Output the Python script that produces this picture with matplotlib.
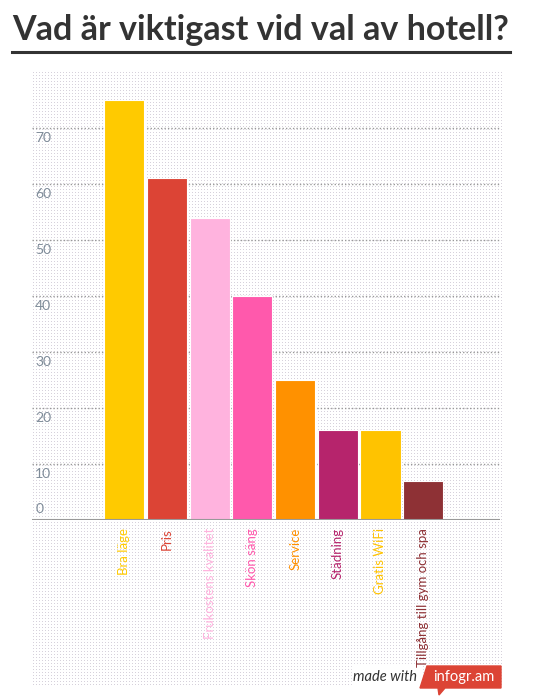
import numpy as np
import matplotlib
matplotlib.use("Agg")
import matplotlib.pyplot as plt
from matplotlib.patches import Polygon

# data
categories = ["Bra läge", "Pris", "Frukostens kvalitet", "Skön säng",
              "Service", "Städning", "Gratis WiFi", "Tillgång till gym och spa"]
values = [75, 61, 54, 40, 25, 16, 16, 7]
colors = ["#ffca00", "#dc4435", "#ffb3de", "#ff59ac",
          "#ff9100", "#b6246c", "#ffc300", "#8e3135"]
yticks = [0, 10, 20, 30, 40, 50, 60, 70]

W, H = 535, 697
font = ["Lato", "DejaVu Sans"]

fig = plt.figure(figsize=(W / 100, H / 100), dpi=100)

# background layer in pixel coordinates
bg = fig.add_axes([0, 0, 1, 1], zorder=0)
bg.set_xlim(0, W)
bg.set_ylim(H, 0)
bg.axis("off")

# dotted texture behind the chart
img = np.ones((H, W, 3))
rows, cols = np.mgrid[0:H, 0:W]
mask = (rows % 3 == 0) & (cols % 3 == 0) & (rows >= 72) & (rows <= 686) & (cols >= 32) & (cols <= 502)
img[mask] = [0.84, 0.82, 0.86]
bg.imshow(img, extent=(0, W, H, 0), interpolation="nearest", aspect="auto")

# title + underline (font size fitted to the underline width)
title = bg.text(12, 30, "Vad är viktigast vid val av hotell?", fontsize=26, fontweight="bold",
                color="#333333", family=font, va="center", ha="left")
fig.canvas.draw()
tw = title.get_window_extent().width
title.set_fontsize(26 * 496 / tw)
bg.plot([12, 510], [52, 52], color="#333333", lw=2.2)

# infogr.am badge
bg.add_patch(plt.Rectangle((352, 664), 70, 25, color="white", zorder=2))
bg.text(417, 677, "made with", fontsize=10.5, style="italic", color="#333333",
        ha="right", va="center", family=font, zorder=3)
bg.add_patch(Polygon([[427, 666], [501, 666], [501, 688], [445, 688], [439, 695],
                      [438, 688], [420, 688]], closed=True, color="#dc4435", zorder=3))
bg.text(464, 677, "infogr.am", fontsize=10.5, color="white", ha="center", va="center",
        family=font, zorder=4)

# main chart
ax = fig.add_axes([32 / W, (H - 520) / H, 468 / W, 448 / H], zorder=1)
ax.patch.set_alpha(0)
x = np.arange(len(categories))
ax.bar(x, values, width=0.94, color=colors, edgecolor="white", linewidth=0.8, zorder=3)
ax.set_xlim(-2.16, 8.8)
ax.set_ylim(0, 80)

for v in yticks[1:]:
    ax.axhline(v, color="#999999", lw=1, ls=(0, (1, 1.5)), zorder=1)
ax.axhline(0, color="#999999", lw=1.5, zorder=4)

tr = ax.get_yaxis_transform()
for v in yticks:
    if v == 0:
        ax.text(0.007, 0.9, str(v), transform=tr, ha="left", va="bottom",
                fontsize=10, color="#7f8c99", family=font)
    else:
        ax.text(0.007, v - 0.7, str(v), transform=tr, ha="left", va="top",
                fontsize=10, color="#7f8c99", family=font)

for xi, lab, c in zip(x, categories, colors):
    ax.text(xi, -1.4, lab, rotation=90, ha="center", va="top", fontsize=9.5,
            color=c, family=font)

ax.set_xticks([])
ax.set_yticks([])
for s in ax.spines.values():
    s.set_visible(False)

fig.savefig("out.png", dpi=100)
